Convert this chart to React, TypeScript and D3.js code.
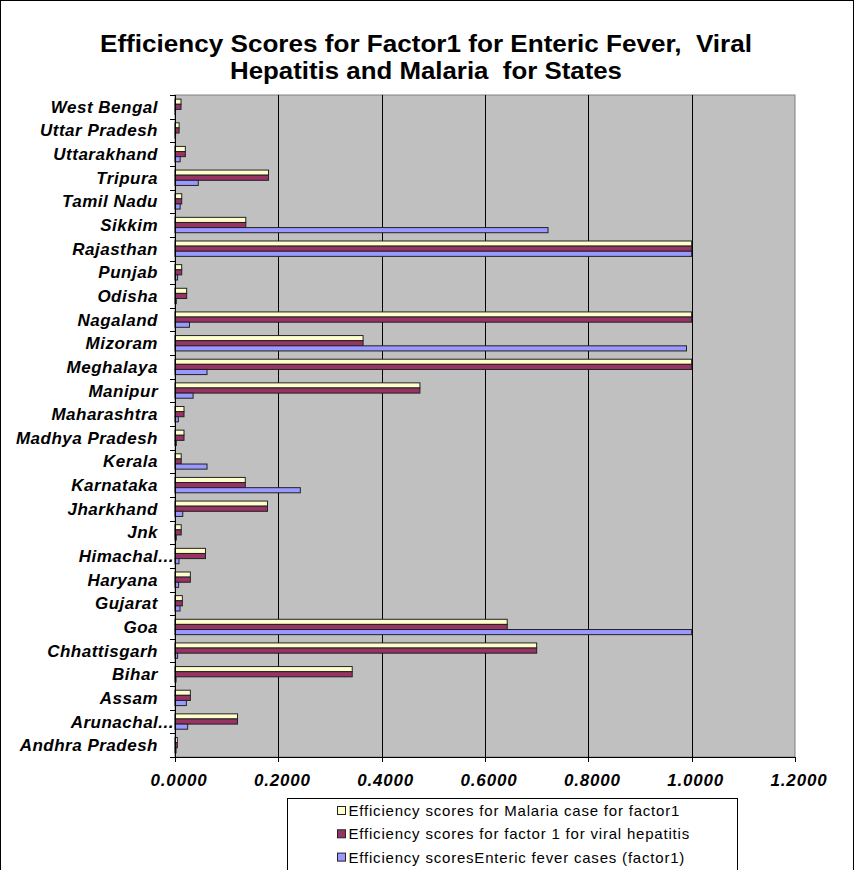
import React from "react";
import * as d3 from "d3";

// States, listed top to bottom as they appear on the category axis
const states = [
  "West Bengal", "Uttar Pradesh", "Uttarakhand", "Tripura", "Tamil Nadu", "Sikkim",
  "Rajasthan", "Punjab", "Odisha", "Nagaland", "Mizoram", "Meghalaya", "Manipur",
  "Maharashtra", "Madhya Pradesh", "Kerala", "Karnataka", "Jharkhand", "Jnk",
  "Himachal...", "Haryana", "Gujarat", "Goa", "Chhattisgarh", "Bihar", "Assam",
  "Arunachal...", "Andhra Pradesh",
];

const malaria = [
  0.0116, 0.008, 0.02, 0.181, 0.013, 0.137, 1.0, 0.013, 0.0226, 1.0, 0.364, 1.0, 0.474,
  0.0174, 0.0174, 0.012, 0.136, 0.179, 0.012, 0.059, 0.0297, 0.0142, 0.643, 0.70, 0.343,
  0.0297, 0.121, 0.0045,
];
const hepatitis = [
  0.0116, 0.008, 0.02, 0.181, 0.013, 0.137, 1.0, 0.013, 0.0226, 1.0, 0.364, 1.0, 0.474,
  0.0174, 0.0174, 0.012, 0.136, 0.179, 0.012, 0.059, 0.0297, 0.0142, 0.643, 0.70, 0.343,
  0.0297, 0.121, 0.0045,
];
const enteric = [
  0.001, 0.001, 0.01, 0.045, 0.01, 0.722, 1.0, 0.005, 0.0025, 0.028, 0.99, 0.062, 0.035,
  0.0065, 0.0025, 0.062, 0.2426, 0.015, 0.0025, 0.0077, 0.007, 0.0097, 1.0, 0.005, 0.002,
  0.022, 0.0245, 0.002,
];

const seriesNames = [
  "Efficiency scores for Malaria case for factor1",
  "Efficiency scores for factor 1 for viral hepatitis",
  "Efficiency scoresEnteric fever cases (factor1)",
];
const seriesColors = ["#ffffcc", "#993366", "#9999ff"];
const xTicks = [0, 0.2, 0.4, 0.6, 0.8, 1.0, 1.2];

const titleLines = [
  "Efficiency Scores for Factor1 for Enteric Fever,  Viral",
  "Hepatitis and Malaria  for States",
];
const titleWidths = [652, 392];

const W = 855;
const H = 870;
const plot = { left: 175, right: 795, top: 95, bottom: 757 };
const font = "Liberation Sans, Arial, sans-serif";

export default function App() {
  const x = d3.scaleLinear().domain([0, 1.2]).range([plot.left, plot.right]);
  const y = d3
    .scaleBand<string>()
    .domain(states)
    .range([plot.top, plot.bottom])
    .paddingInner(0.35)
    .paddingOuter(0.175);
  const series = [malaria, hepatitis, enteric];
  const sub = d3
    .scaleBand<number>()
    .domain([0, 1, 2])
    .range([0, y.bandwidth()]);
  const step = y.step();
  const boundaries = d3.range(states.length + 1).map((i) => plot.top + i * step);

  return (
    <svg
      width={W}
      height={H}
      style={{ position: "absolute", left: 0, top: 0, background: "#fff" }}
      fontFamily={font}
    >
      <rect x={0.5} y={0.5} width={W - 2} height={H + 10} fill="#fff" stroke="#000" />
      {titleLines.map((t, i) => (
        <text
          key={i}
          x={426}
          y={52 + i * 27}
          textAnchor="middle"
          fontSize={24}
          fontWeight="bold"
          fill="#000"
          textLength={titleWidths[i]}
          lengthAdjust="spacingAndGlyphs"
          style={{ whiteSpace: "pre" }}
        >
          {t}
        </text>
      ))}

      <rect
        x={plot.left}
        y={plot.top}
        width={plot.right - plot.left}
        height={plot.bottom - plot.top}
        fill="#c0c0c0"
        stroke="#808080"
      />
      {xTicks.slice(1, -1).map((t) => (
        <line
          key={t}
          x1={Math.round(x(t)) + 0.5}
          x2={Math.round(x(t)) + 0.5}
          y1={plot.top}
          y2={plot.bottom}
          stroke="#000"
        />
      ))}

      {states.map((s, i) =>
        series.map((vals, k) => (
          <rect
            key={s + k}
            x={plot.left}
            y={(y(s) as number) + (sub(k) as number)}
            width={Math.max(0, x(vals[i]) - plot.left)}
            height={sub.bandwidth()}
            fill={seriesColors[k]}
            stroke="#222"
            strokeWidth={1}
          />
        ))
      )}

      {/* axes */}
      <line x1={plot.left + 0.5} x2={plot.left + 0.5} y1={plot.top} y2={plot.bottom + 0.5} stroke="#000" />
      <line x1={plot.left} x2={plot.right} y1={plot.bottom + 0.5} y2={plot.bottom + 0.5} stroke="#000" />
      {boundaries.map((b, i) => (
        <line key={i} x1={plot.left - 5} x2={plot.left} y1={Math.round(b) + 0.5} y2={Math.round(b) + 0.5} stroke="#000" />
      ))}
      {xTicks.map((t) => (
        <g key={t}>
          <line
            x1={Math.round(x(t)) + 0.5}
            x2={Math.round(x(t)) + 0.5}
            y1={plot.bottom}
            y2={plot.bottom + 5}
            stroke="#000"
          />
          <text
            x={x(t) + 4}
            y={786}
            textAnchor="middle"
            fontSize={17}
            fontWeight="bold"
            fontStyle="italic"
            fill="#000"
            style={{ letterSpacing: "0.8px" }}
          >
            {t.toFixed(4)}
          </text>
        </g>
      ))}
      {states.map((s) => (
        <text
          key={s}
          x={s.endsWith("...") ? 174 : 158}
          y={(y(s) as number) + y.bandwidth() / 2 + 6}
          textAnchor="end"
          fontSize={17}
          fontWeight="bold"
          fontStyle="italic"
          fill="#000"
          style={{ letterSpacing: "0.5px" }}
        >
          {s}
        </text>
      ))}

      {/* legend */}
      <rect x={287.5} y={798.5} width={450} height={90} fill="#fff" stroke="#000" />
      {seriesNames.map((n, k) => (
        <g key={n} transform={`translate(337.5, ${806.5 + k * 23.3})`}>
          <rect x={0} y={0} width={8} height={8} fill={seriesColors[k]} stroke="#222" />
          <text x={11} y={9.5} fontSize={15} fill="#000" style={{ letterSpacing: "0.8px" }}>
            {n}
          </text>
        </g>
      ))}
    </svg>
  );
}
